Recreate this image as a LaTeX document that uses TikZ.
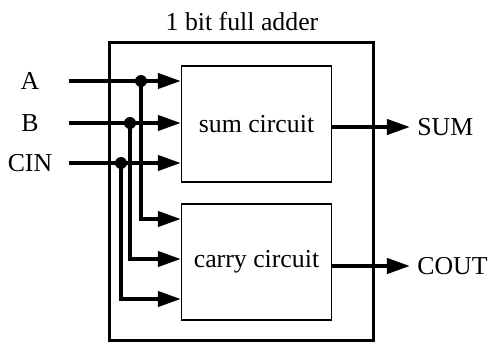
\documentclass[tikz,border=0pt]{standalone}
\usepackage{fontspec}
\setmainfont{Liberation Serif}
\usetikzlibrary{arrows.meta,positioning,calc}
\tikzset{
faouter/.style={rectangle,draw,line width=1.5pt,minimum width=132pt,minimum height=149pt,inner sep=0pt},
fabox/.style={rectangle,draw,line width=0.6pt,fill=white,minimum width=75pt,minimum height=58pt,inner sep=0pt},
faport/.style={inner sep=3.5pt},
fasig/.style={line width=2pt},
faarr/.style={fasig,-{Triangle[length=11.5pt,width=7.5pt]}},
fadot/.style={circle,fill,inner sep=0pt,minimum size=6pt}
}
\begin{document}
\begin{tikzpicture}[
x=0.5pt,
y=-0.5pt,
every node/.style={font=\fontsize{12.9}{15}\selectfont}
]
\useasboundingbox (0,0) rectangle (489,343);
\node[faouter] (adder) at (242,191) {};
\node (title) at (242,22) {1 bit full adder};
\node[fabox] (sumckt) at (256.5,124) {sum circuit};
\node[fabox] (carryckt) at (256.5,262) {carry circuit};
% inputs
\node (ina) at (30,81) {A};
\node (inb) at (30,123) {B};
\node (incin) at (30,163) {CIN};
\coordinate (sa) at (69,81);
\coordinate (sb) at (69,123);
\coordinate (sc) at (69,163);
\coordinate (ja) at (141,81);
\coordinate (jb) at (130,123);
\coordinate (jc) at (121,163);
\draw[faarr] (sa) -- (sa -| sumckt.west);
\draw[faarr] (sb) -- (sb -| sumckt.west);
\draw[faarr] (sc) -- (sc -| sumckt.west);
\draw[faarr] (ja) |- ($(carryckt.west)+(0,-43)$);
\draw[faarr] (jb) |- ($(carryckt.west)+(0,-3)$);
\draw[faarr] (jc) |- ($(carryckt.west)+(0,37)$);
\node[fadot] at (ja) {};
\node[fadot] at (jb) {};
\node[fadot] at (jc) {};
% outputs
\node[faport,anchor=west] (sumout) at (410,127) {SUM};
\node[faport,anchor=west] (coutout) at (410,266) {COUT};
\draw[faarr] (sumout.west -| sumckt.east) -- (sumout.west);
\draw[faarr] (coutout.west -| carryckt.east) -- (coutout.west);
\end{tikzpicture}
\end{document}
